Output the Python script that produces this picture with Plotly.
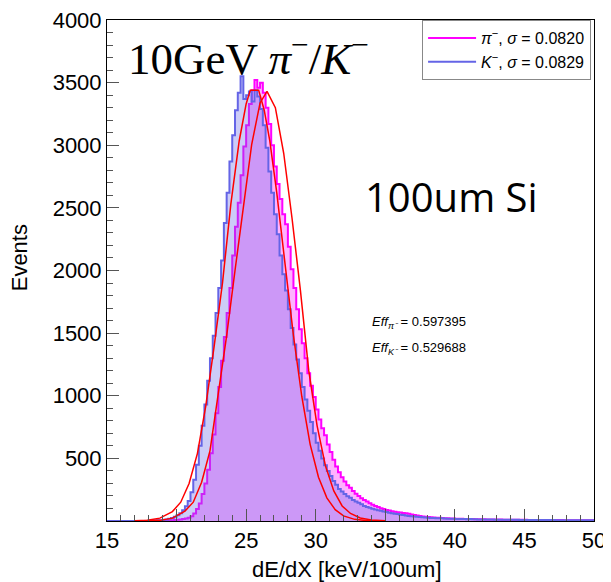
import plotly.graph_objects as go

# ---------------- data ----------------
bin_lo = 15.0
bin_w = 0.2

# K- histogram counts, bins of 0.2 keV from 15.0 to 50.0
k_counts = [0] * 15 + [
    2, 3, 3, 5, 6, 9, 12, 17, 24, 33,
    45, 62, 85, 118, 160, 230, 330, 450, 600, 760,
    930, 1120, 1300, 1480, 1660, 1860, 2080, 2380, 2620, 2870,
    3080, 3280, 3420, 3550, 3370, 3400, 3430, 3350, 3440, 3390,
    3290, 3160, 2980, 2790, 2620, 2450, 2290, 2120, 1970, 1840,
    1690, 1540, 1410, 1290, 1180, 1070, 970, 880, 790, 700,
    625, 560, 500, 445, 400, 360, 320, 290, 255, 235,
    215, 198, 185, 168, 155, 145, 133, 120, 112, 106,
    98, 92, 85, 81, 76, 72, 66, 62, 58, 55,
    50, 47, 44, 40, 38, 35, 33, 31, 29, 27,
    26, 24, 23, 22, 21, 22, 19, 18, 18, 17,
    16, 16, 15, 15, 14, 16, 13, 13, 12, 12,
    12, 11, 11, 11, 10, 10, 10, 10, 9, 9,
    9, 9, 9, 8, 8, 8, 8, 8, 8, 7,
    7, 7, 7, 7, 7, 7, 6, 6, 6, 6,
    6, 6, 6, 6, 6, 5, 5, 5, 5, 5,
]

# pi- histogram counts, same binning
pi_counts = [0] * 15 + [
    0, 0, 1, 1, 2, 2, 3, 4, 5, 7,
    9, 12, 15, 19, 25, 38, 60, 95, 140, 215,
    300, 410, 540, 690, 860, 1070, 1280, 1470, 1660, 1860,
    2120, 2350, 2540, 2760, 2990, 3160, 3330, 3440, 3520, 3460,
    3500, 3420, 3300, 3170, 3000, 2830, 2690, 2570, 2450, 2370,
    2190, 2010, 1860, 1690, 1530, 1420, 1300, 1180, 1080, 990,
    890, 810, 740, 685, 610, 550, 490, 435, 390, 350,
    315, 285, 265, 240, 218, 200, 182, 168, 155, 142,
    130, 120, 111, 102, 95, 88, 83, 78, 74, 70,
    67, 64, 61, 57, 52, 47, 43, 39, 36, 34,
    32, 30, 28, 26, 25, 24, 22, 21, 20, 19,
    18, 18, 17, 16, 16, 15, 15, 14, 14, 13,
    13, 12, 12, 12, 11, 11, 11, 10, 10, 10,
    10, 9, 9, 9, 9, 9, 8, 8, 8, 8,
    8, 8, 7, 7, 7, 7, 7, 7, 7, 6,
    6, 6, 6, 6, 6, 6, 6, 5, 5, 5,
]

# Gaussian fit curves
fit_k_x = [17.0, 17.9, 18.8, 19.7, 20.3, 20.9, 21.5, 22.1, 22.7, 23.3, 23.9, 24.5, 25.0, 25.3,
           25.9, 26.3, 26.7, 27.2, 27.8, 28.4, 29.0, 29.6, 30.2, 30.8, 31.4, 32.0, 32.8, 33.6,
           34.4, 35.0]
fit_k_y = [1, 6, 23, 75, 150, 300, 540, 920, 1394, 1900, 2530, 3034, 3330, 3440,
           3440, 3280, 3034, 2622, 2049, 1481, 994, 612, 349, 185, 91, 41, 13, 4,
           1, 0]

fit_pi_x = [17.0, 17.9, 18.8, 19.7, 20.6, 21.2, 21.8, 22.4, 23.0, 23.6, 24.2, 24.8, 25.4, 26.0,
            26.5, 27.1, 27.7, 28.3, 28.9, 29.5, 30.1, 30.7, 31.3, 31.9, 32.5, 33.2, 34.0, 35.0]
fit_pi_y = [0, 1, 5, 23, 79, 150, 310, 560, 1000, 1480, 2000, 2507, 3008, 3338,
            3430, 3300, 2936, 2415, 1842, 1200, 760, 440, 240, 120, 60, 24, 8, 1]

x_ticks = [15, 20, 25, 30, 35, 40, 45, 50]
y_ticks = [0, 500, 1000, 1500, 2000, 2500, 3000, 3500, 4000]
y_ticktext = ["", "500", "1000", "1500", "2000", "2500", "3000", "3500", "4000"]

leg_pi = "<i>π</i><sup>−</sup>, <i>σ</i> = 0.0820"
leg_k = "<i>K</i><sup>−</sup>, <i>σ</i> = 0.0829"
eff_pi = "<i>Eff<sub>π⁻</sub></i> = 0.597395"
eff_k = "<i>Eff<sub>K⁻</sub></i> = 0.529688"

# ---------------- figure ----------------
PINK = "#ff00ff"
BLUE = "rgb(100,100,230)"


def step_xy(counts):
    n = len(counts)
    xs = [round(bin_lo + bin_w * i, 6) for i in range(n + 1)]
    ys = list(counts) + [counts[-1]]
    return xs, ys


fig = go.Figure()

px_, py_ = step_xy(pi_counts)
fig.add_trace(go.Scatter(x=px_, y=py_, mode="lines", line=dict(color=PINK, width=2, shape="hv"),
                         fill="tozeroy", fillcolor="rgba(255,0,255,0.30)", showlegend=False))
kx_, ky_ = step_xy(k_counts)
fig.add_trace(go.Scatter(x=kx_, y=ky_, mode="lines", line=dict(color=BLUE, width=2, shape="hv"),
                         fill="tozeroy", fillcolor="rgba(100,100,230,0.33)", showlegend=False))

fig.add_trace(go.Scatter(x=fit_k_x, y=fit_k_y, mode="lines", line=dict(color="red", width=1.5),
                         showlegend=False))
fig.add_trace(go.Scatter(x=fit_pi_x, y=fit_pi_y, mode="lines", line=dict(color="red", width=1.5),
                         showlegend=False))

# legend entries (line only)
fig.add_trace(go.Scatter(x=[None], y=[None], mode="lines", line=dict(color=PINK, width=2), name=leg_pi))
fig.add_trace(go.Scatter(x=[None], y=[None], mode="lines", line=dict(color=BLUE, width=2), name=leg_k))

axis_font = dict(family="Liberation Sans, Arial, sans-serif", size=22, color="black")

fig.update_xaxes(range=[15, 50], tickmode="array", tickvals=x_ticks, ticks="inside", ticklen=12,
                 tickcolor="#555", tickwidth=1, showline=True, linecolor="black", linewidth=1,
                 mirror=True, showgrid=False, zeroline=False, tickfont=axis_font, automargin=False,
                 ticklabeloverflow="allow",
                 minor=dict(dtick=1, tick0=15, ticks="inside", ticklen=6, tickcolor="#555", showgrid=False))
fig.update_yaxes(range=[0, 4000], tickmode="array", tickvals=y_ticks, ticktext=y_ticktext,
                 ticks="inside", ticklen=12, tickcolor="#555", tickwidth=1, showline=True,
                 linecolor="black", linewidth=1, mirror=True, showgrid=False, zeroline=False,
                 tickfont=axis_font, automargin=False, ticklabeloverflow="allow",
                 minor=dict(dtick=100, tick0=0, ticks="inside", ticklen=6, tickcolor="#555", showgrid=False))

fig.add_annotation(xref="paper", yref="paper", x=0.04, y=0.93, xanchor="left", yanchor="middle",
                   text="10GeV <i>π</i><sup>−</sup>/<i>K</i><sup>−</sup>", showarrow=False,
                   font=dict(family="Liberation Serif, serif", size=45, color="black"))
fig.add_annotation(xref="paper", yref="paper", x=0.525, y=0.648, xanchor="left", yanchor="middle",
                   text="100um Si", showarrow=False,
                   font=dict(family="Open Sans, sans-serif", size=40, color="black"))
fig.add_annotation(xref="paper", yref="paper", x=0.54, y=0.396, xanchor="left", yanchor="middle",
                   text=eff_pi, showarrow=False,
                   font=dict(family="Liberation Sans, Arial, sans-serif", size=13, color="black"))
fig.add_annotation(xref="paper", yref="paper", x=0.54, y=0.344, xanchor="left", yanchor="middle",
                   text=eff_k, showarrow=False,
                   font=dict(family="Liberation Sans, Arial, sans-serif", size=13, color="black"))
fig.add_annotation(xref="paper", yref="paper", x=0.493, y=-0.097, xanchor="center", yanchor="middle",
                   text="dE/dX [keV/100um]", showarrow=False,
                   font=dict(family="Liberation Sans, Arial, sans-serif", size=22, color="black"))
fig.add_annotation(xref="paper", yref="paper", x=-0.178, y=0.525, xanchor="center", yanchor="middle",
                   text="Events", textangle=-90, showarrow=False,
                   font=dict(family="Liberation Sans, Arial, sans-serif", size=22, color="black"))

# The page body adds an 8px offset, so the figure is 8px smaller and margins shifted.
fig.update_layout(
    width=603, height=574,
    margin=dict(l=99, r=17, t=12, b=61, autoexpand=False),
    paper_bgcolor="white", plot_bgcolor="white",
    showlegend=True,
    legend=dict(x=0.994, y=1.0, xanchor="right", yanchor="top", bgcolor="white",
                bordercolor="#888", borderwidth=1, itemwidth=48,
                font=dict(family="Liberation Sans, Arial, sans-serif", size=16, color="black")),
)

fig.write_html("out.html")
